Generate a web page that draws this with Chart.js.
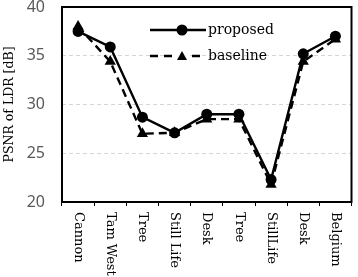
<!DOCTYPE html>
<html>
<head>
<meta charset="utf-8">
<script src="https://cdn.jsdelivr.net/npm/chart.js@4/dist/chart.umd.min.js"></script>
<style>
  html, body { margin: 0; padding: 0; background: #fff; }
  #wrap { width: 358px; height: 277px; position: relative; }
</style>
</head>
<body>
<div id="wrap"><canvas id="psnrChart"></canvas></div>
<script>
/* ============================================
   PSNR of LDR — proposed vs baseline
   ============================================ */

const categories = ['Cannon', 'Tam West', 'Tree', 'Still Life', 'Desk', 'Tree', 'StillLife', 'Desk', 'Belgium'];
const proposedValues = [37.5, 35.9, 28.7, 27.1, 29.0, 29.0, 22.3, 35.2, 37.0];
const baselineValues = [38.0, 34.4, 27.0, 27.1, 28.5, 28.5, 21.8, 34.4, 36.7];
const yTicks = [20, 25, 30, 35, 40];

const serif = "'DejaVu Serif', serif";

// Plot frame, rotated category labels and in-plot legend
const decorPlugin = {
  id: 'decor',
  afterDraw(chart) {
    const { ctx, chartArea: area, scales } = chart;
    const xScale = scales.x;

    ctx.save();
    // frame
    ctx.strokeStyle = '#000';
    ctx.lineWidth = 2;
    ctx.strokeRect(area.left, area.top, area.right - area.left, area.bottom - area.top);

    // category labels, reading top to bottom
    ctx.fillStyle = '#000';
    ctx.font = '13px ' + serif;
    ctx.textAlign = 'left';
    ctx.textBaseline = 'middle';
    categories.forEach((label, i) => {
      const x = xScale.getPixelForValue(i);
      ctx.save();
      ctx.translate(x, area.bottom + 10);
      ctx.rotate(Math.PI / 2);
      ctx.fillText(label, 0, 0);
      ctx.restore();
    });

    // legend
    const lx = 150, lw = 56;
    const rows = [
      { text: 'proposed', y: 30, dash: [], marker: 'circle' },
      { text: 'baseline', y: 56, dash: [8, 6], marker: 'triangle' }
    ];
    rows.forEach(r => {
      ctx.strokeStyle = '#000';
      ctx.lineWidth = 2.4;
      ctx.setLineDash(r.dash);
      ctx.beginPath();
      ctx.moveTo(lx, r.y);
      ctx.lineTo(lx + lw, r.y);
      ctx.stroke();
      ctx.setLineDash([]);
      const cx = lx + lw / 2 + 4;
      if (r.marker === 'circle') {
        ctx.fillStyle = '#000';
        ctx.beginPath();
        ctx.arc(cx, r.y, 5.5, 0, Math.PI * 2);
        ctx.fill();
      } else {
        ctx.fillStyle = '#fff';
        ctx.fillRect(cx - 8, r.y - 6, 16, 12);
        ctx.fillStyle = '#000';
        ctx.beginPath();
        ctx.moveTo(cx, r.y - 5);
        ctx.lineTo(cx + 5, r.y + 4);
        ctx.lineTo(cx - 5, r.y + 4);
        ctx.closePath();
        ctx.fill();
      }
      ctx.fillStyle = '#000';
      ctx.font = '14px ' + serif;
      ctx.textAlign = 'left';
      ctx.textBaseline = 'middle';
      ctx.fillText(r.text, lx + lw + 2, r.y);
    });
    ctx.restore();
  }
};

new Chart(document.getElementById('psnrChart').getContext('2d'), {
  type: 'line',
  data: {
    labels: categories,
    datasets: [
      {
        label: 'baseline',
        data: baselineValues,
        borderColor: '#000',
        backgroundColor: '#000',
        borderWidth: 2.4,
        borderDash: [8, 5],
        pointStyle: 'triangle',
        pointRadius: 6.5,
        pointBorderWidth: 0,
        tension: 0
      },
      {
        label: 'proposed',
        data: proposedValues,
        borderColor: '#000',
        backgroundColor: '#000',
        borderWidth: 2.4,
        pointStyle: 'circle',
        pointRadius: 5.5,
        pointBorderWidth: 0,
        tension: 0
      }
    ]
  },
  options: {
    responsive: true,
    maintainAspectRatio: false,
    animation: false,
    layout: { padding: { top: 7, right: -1, left: 0, bottom: 0 } },
    scales: {
      x: {
        type: 'category',
        offset: true,
        border: { display: false },
        grid: { offset: true, drawOnChartArea: false, color: '#000', tickColor: '#000', tickLength: 4, lineWidth: 1 },
        ticks: { display: false },
        afterFit: scale => { scale.height = 75; }
      },
      y: {
        min: 20,
        max: 40,
        afterBuildTicks: scale => { scale.ticks = yTicks.map(v => ({ value: v })); },
        border: { display: false, dash: [4, 3] },
        grid: { color: '#d6d6d6', drawTicks: true, tickLength: 17, tickColor: 'rgba(0,0,0,0)', lineWidth: 1 },
        ticks: { color: '#595959', padding: 0, font: { size: 16, family: "'Noto Sans', sans-serif", lineHeight: 0.8 } },
        title: {
          display: true,
          text: 'PSNR of LDR [dB]',
          color: '#000',
          font: { size: 12.5, family: serif },
          padding: { top: 2, bottom: 0 }
        },
        afterFit: scale => { scale.width = 62; }
      }
    },
    plugins: {
      legend: { display: false },
      tooltip: { enabled: false }
    }
  },
  plugins: [decorPlugin]
});
</script>
</body>
</html>
